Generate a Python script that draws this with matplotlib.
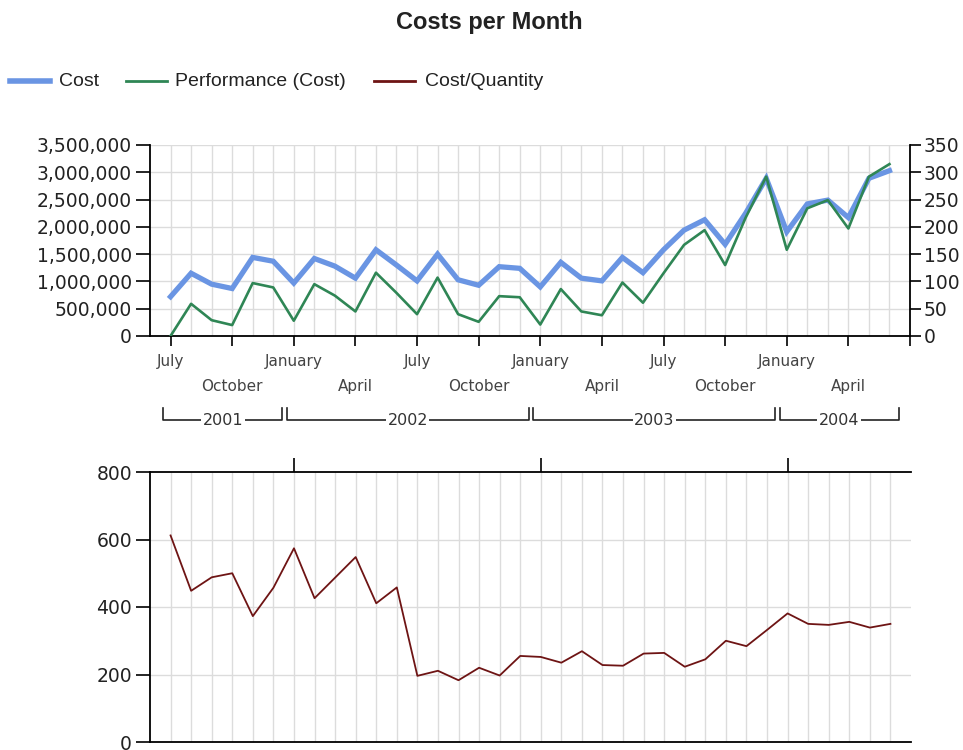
import matplotlib
matplotlib.use('Agg')
import matplotlib.pyplot as plt
from matplotlib.lines import Line2D
from matplotlib.ticker import FuncFormatter

# monthly data, July 2001 .. June 2004 (index 0 = July 2001)
months = list(range(36))
cost = [0.72e6, 1.15e6, 0.95e6, 0.87e6, 1.44e6, 1.37e6,
        0.97e6, 1.42e6, 1.28e6, 1.06e6, 1.58e6, 1.30e6,
        1.01e6, 1.50e6, 1.03e6, 0.93e6, 1.27e6, 1.24e6,
        0.90e6, 1.35e6, 1.06e6, 1.01e6, 1.44e6, 1.16e6,
        1.58e6, 1.94e6, 2.13e6, 1.68e6, 2.25e6, 2.89e6,
        1.91e6, 2.42e6, 2.49e6, 2.17e6, 2.89e6, 3.03e6]
performance = [0.00e6, 0.59e6, 0.29e6, 0.20e6, 0.97e6, 0.89e6,
               0.28e6, 0.95e6, 0.74e6, 0.45e6, 1.16e6, 0.79e6,
               0.40e6, 1.07e6, 0.40e6, 0.26e6, 0.73e6, 0.71e6,
               0.21e6, 0.86e6, 0.45e6, 0.38e6, 0.98e6, 0.61e6,
               1.15e6, 1.67e6, 1.94e6, 1.30e6, 2.17e6, 2.92e6,
               1.58e6, 2.34e6, 2.49e6, 1.97e6, 2.92e6, 3.15e6]
cost_per_qty = [612, 448, 488, 500, 373, 457,
                574, 426, 487, 548, 411, 458,
                196, 211, 183, 220, 197, 255,
                252, 235, 269, 228, 226, 262,
                264, 223, 245, 300, 284, 332,
                381, 350, 347, 356, 339, 350]

quarter_ticks = list(range(0, 37, 3))
quarter_labels = ['July', 'October', 'January', 'April'] * 3
years = ['2001', '2002', '2003', '2004']
year_first = [0, 6, 18, 30]
year_last = [5, 17, 29, 35]
jan_ticks = [6, 18, 30]

BLUE = '#6a95e3'
GREEN = '#2f8655'
RED = '#6e1414'
GRID = '#dcdcdc'
NUM_FONT = 'DejaVu Sans'

fig = plt.figure(figsize=(9.63, 7.5), dpi=100)
W, H = 963.0, 750.0

fig.text(489 / W, 1 - 22 / H, 'Costs per Month', ha='center', va='center',
         fontsize=17, fontweight='bold', family='Liberation Sans', color='#222')

# legend drawn by hand so it sits flush left like the original
legend_items = [('Cost', BLUE, 4.0, 10, 50, 59),
                ('Performance (Cost)', GREEN, 2.0, 126, 167, 175),
                ('Cost/Quantity', RED, 2.0, 374, 415, 425)]
ly = 1 - 81 / H
for label, color, lw, x0, x1, tx in legend_items:
    fig.add_artist(Line2D([x0 / W, x1 / W], [ly, ly], color=color, lw=lw,
                          transform=fig.transFigure))
    fig.text(tx / W, ly, label, ha='left', va='center', fontsize=14,
             family='Liberation Sans', color='#222')

# ---- top panel: cost and performance ----
ax1 = fig.add_axes([150 / W, (H - 336) / H, 760 / W, 191 / H])
ax1.set_xlim(-1, 36)
ax1.set_ylim(0, 3.5e6)
for m in months:
    ax1.axvline(m, color=GRID, lw=1, zorder=0)
for v in range(500000, 3500001, 500000):
    ax1.axhline(v, color=GRID, lw=1, zorder=0)
ax1.plot(months, cost, color=BLUE, lw=3.8, solid_joinstyle='miter', zorder=3)
ax1.plot(months, performance, color=GREEN, lw=1.9, zorder=4)

ax1.set_yticks(range(0, 3500001, 500000))
ax1.yaxis.set_major_formatter(FuncFormatter(lambda v, p: f'{int(v):,}'))
ax1.set_xticks(quarter_ticks)
ax1.set_xticklabels([])
ax1.tick_params(axis='y', direction='out', length=10, width=1.2,
                labelsize=13.5, labelcolor='#222', pad=3)
ax1.tick_params(axis='x', direction='out', length=7, width=1.2)
for lab in ax1.get_yticklabels():
    lab.set_family(NUM_FONT)
ax1.spines['top'].set_visible(False)
ax1.spines['right'].set_visible(False)
for s in ('left', 'bottom'):
    ax1.spines[s].set_linewidth(1.3)

axr = ax1.twinx()
axr.set_ylim(0, 350)
axr.set_yticks(range(0, 351, 50))
axr.tick_params(axis='y', direction='out', length=8, width=1.2,
                labelsize=13.5, labelcolor='#222', pad=2)
for lab in axr.get_yticklabels():
    lab.set_family(NUM_FONT)
for s in ('top', 'left', 'bottom'):
    axr.spines[s].set_visible(False)
axr.spines['right'].set_linewidth(1.3)

# month labels in two staggered rows
xt = ax1.get_xaxis_transform()
for i, (pos, lab) in enumerate(zip(quarter_ticks, quarter_labels)):
    y = -0.136 if i % 2 == 0 else -0.267
    ax1.text(pos, y, lab, transform=xt, ha='center', va='center',
             fontsize=11, family=NUM_FONT, color='#444')

# year brackets
yb, yt = -0.44, -0.375
for name, a, b in zip(years, year_first, year_last):
    x0, x1 = a - 0.35, b + 0.45
    ax1.plot([x0, x0, x1, x1], [yt, yb, yb, yt], color='#222', lw=1.2,
             transform=xt, clip_on=False)
    ax1.text((x0 + x1) / 2, yb, name, transform=xt, ha='center', va='center',
             fontsize=11.5, family=NUM_FONT, color='#333',
             bbox=dict(facecolor='white', edgecolor='none', pad=1.0))

# ---- bottom panel: cost per quantity ----
ax2 = fig.add_axes([150 / W, (H - 742) / H, 761 / W, 270 / H])
ax2.set_xlim(-1, 36)
ax2.set_ylim(0, 800)
for m in months:
    ax2.axvline(m, color=GRID, lw=1, zorder=0)
for v in (200, 400, 600):
    ax2.axhline(v, color=GRID, lw=1, zorder=0)
ax2.plot(months, cost_per_qty, color=RED, lw=1.3, zorder=3)

ax2.set_yticks(range(0, 801, 200))
ax2.tick_params(axis='y', direction='out', length=10, width=1.2,
                labelsize=13.5, labelcolor='#222', pad=3)
for lab in ax2.get_yticklabels():
    lab.set_family(NUM_FONT)
ax2.xaxis.set_ticks_position('top')
ax2.set_xticks(jan_ticks)
ax2.set_xticklabels([])
ax2.tick_params(axis='x', direction='out', length=10, width=1.2)
ax2.spines['right'].set_visible(False)
for s in ('left', 'top', 'bottom'):
    ax2.spines[s].set_linewidth(1.3)

fig.savefig('out.png', dpi=100)
